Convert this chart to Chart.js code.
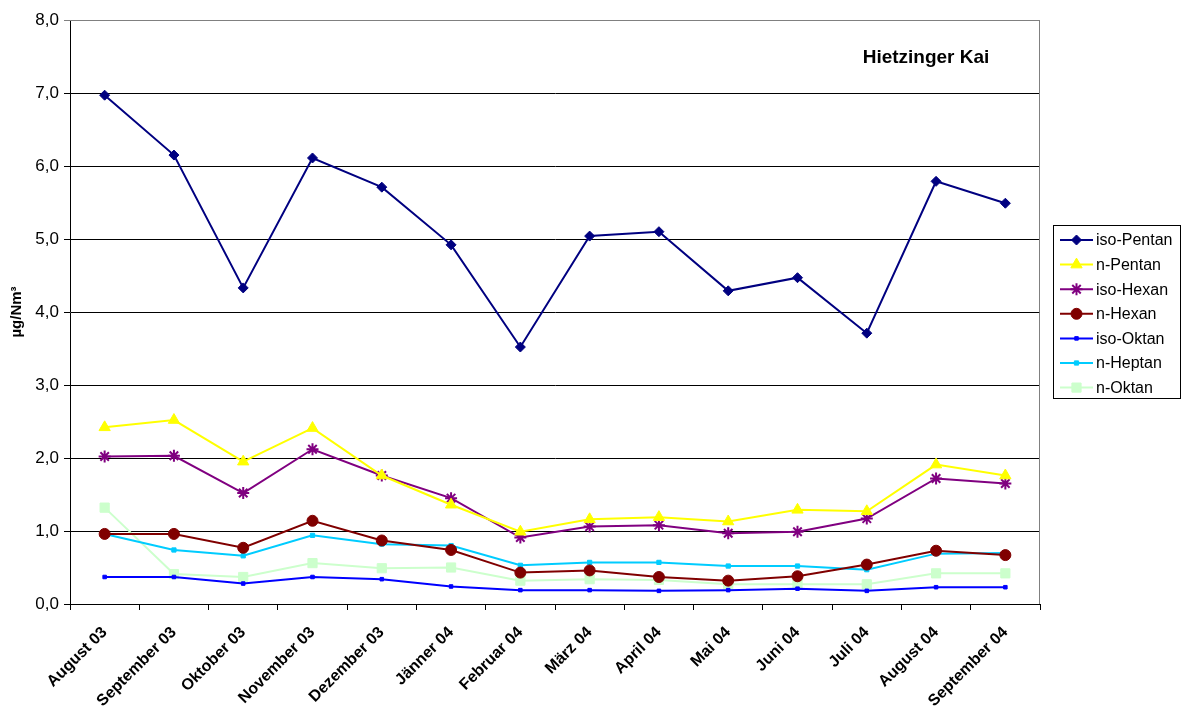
<!DOCTYPE html>
<html>
<head>
<meta charset="utf-8">
<title>Hietzinger Kai</title>
<script src="https://cdn.jsdelivr.net/npm/chart.js@4/dist/chart.umd.min.js"></script>
<style>
  html, body { margin: 0; padding: 0; background: #fff; }
  #wrap { width: 1182px; height: 711px; }
</style>
</head>
<body>
<div id="wrap"><canvas id="grafico" width="1182" height="711"></canvas></div>
<script>
// Monate
var monate = ['August 03', 'September 03', 'Oktober 03', 'November 03', 'Dezember 03', 'Jänner 04',
  'Februar 04', 'März 04', 'April 04', 'Mai 04', 'Juni 04', 'Juli 04', 'August 04', 'September 04'];

// Messwerte in µg/Nm³
var isoPentan = [6.97, 6.15, 4.33, 6.11, 5.71, 4.92, 3.52, 5.04, 5.10, 4.29, 4.47, 3.71, 5.79, 5.49];
var nPentan   = [2.42, 2.52, 1.95, 2.41, 1.76, 1.36, 0.99, 1.16, 1.19, 1.13, 1.29, 1.27, 1.91, 1.76];
var isoHexan  = [2.02, 2.03, 1.52, 2.12, 1.76, 1.45, 0.91, 1.06, 1.08, 0.97, 0.99, 1.17, 1.72, 1.65];
var nHexan    = [0.96, 0.96, 0.77, 1.14, 0.87, 0.74, 0.43, 0.46, 0.37, 0.32, 0.38, 0.54, 0.73, 0.67];
var isoOktan  = [0.37, 0.37, 0.28, 0.37, 0.34, 0.24, 0.19, 0.19, 0.18, 0.19, 0.21, 0.18, 0.23, 0.23];
var nHeptan   = [0.96, 0.74, 0.66, 0.94, 0.82, 0.80, 0.53, 0.57, 0.57, 0.52, 0.52, 0.47, 0.69, 0.70];
var nOktan    = [1.32, 0.41, 0.37, 0.56, 0.49, 0.50, 0.32, 0.34, 0.33, 0.27, 0.27, 0.27, 0.42, 0.42];

var yTicks = [0, 1, 2, 3, 4, 5, 6, 7, 8];

var schrift = '"Liberation Sans", Arial, sans-serif';

function serie(label, werte, farbe, punkt, radius) {
  return {
    label: label,
    data: werte,
    borderColor: farbe,
    backgroundColor: farbe,
    borderWidth: 2,
    pointStyle: punkt,
    pointRadius: radius,
    pointHoverRadius: radius,
    pointBorderWidth: punkt === 'star' ? 2 : 1,
    tension: 0
  };
}

var datasets = [
  serie('iso-Pentan', isoPentan, '#000080', 'rectRot', 5),
  serie('n-Pentan', nPentan, '#FFFF00', 'triangle', 6.5),
  serie('iso-Hexan', isoHexan, '#800080', 'star', 6),
  serie('n-Hexan', nHexan, '#800000', 'circle', 5.5),
  serie('iso-Oktan', isoOktan, '#0000FF', 'rect', 2.5),
  serie('n-Heptan', nHeptan, '#00CCFF', 'rect', 3),
  serie('n-Oktan', nOktan, '#CCFFCC', 'rect', 6.5)
];

// Rahmen, Überschrift und Legende
var rahmen = {
  id: 'rahmen',
  beforeDatasetsDraw: function(chart) {
    var c = chart.ctx, a = chart.chartArea;
    c.save();
    c.strokeStyle = '#808080';
    c.lineWidth = 1;
    c.beginPath();
    c.moveTo(a.left, a.top + 0.5);
    c.lineTo(a.right - 0.5, a.top + 0.5);
    c.lineTo(a.right - 0.5, a.bottom);
    c.stroke();
    c.restore();
  },
  afterDraw: function(chart) {
    var c = chart.ctx;
    c.save();
    c.fillStyle = '#000';
    c.font = 'bold 19px ' + schrift;
    c.textAlign = 'center';
    c.textBaseline = 'middle';
    c.fillText('Hietzinger Kai', 926, 58);

    // Legende
    var lx = 1053, ly = 225, lw = 127, lh = 173, zeile = 24.6;
    c.strokeStyle = '#000';
    c.lineWidth = 1;
    c.strokeRect(lx + 0.5, ly + 0.5, lw, lh);
    c.font = '16px ' + schrift;
    c.textAlign = 'left';
    chart.data.datasets.forEach(function(ds, i) {
      var y = ly + 15 + i * zeile;
      c.strokeStyle = ds.borderColor;
      c.lineWidth = 2;
      c.beginPath();
      c.moveTo(lx + 7, y);
      c.lineTo(lx + 40, y);
      c.stroke();
      c.fillStyle = ds.borderColor;
      c.strokeStyle = ds.borderColor;
      c.lineWidth = ds.pointBorderWidth;
      Chart.helpers.drawPoint(c, {
        pointStyle: ds.pointStyle,
        radius: ds.pointRadius,
        borderWidth: ds.pointBorderWidth,
        rotation: 0
      }, lx + 23.5, y);
      c.fillStyle = '#000';
      c.fillText(ds.label, lx + 43, y + 1);
    });
    c.restore();
  }
};

var ctx = document.getElementById('grafico').getContext('2d');
new Chart(ctx, {
  type: 'line',
  data: { labels: monate, datasets: datasets },
  plugins: [rahmen],
  options: {
    responsive: false,
    animation: false,
    layout: { padding: { top: 20, right: 142, left: 0, bottom: 0 } },
    plugins: {
      legend: { display: false },
      title: { display: false },
      tooltip: { enabled: false }
    },
    scales: {
      x: {
        offset: true,
        grid: { drawOnChartArea: false, drawTicks: true, tickLength: 6, color: '#000', offset: true },
        border: { color: '#000', width: 1 },
        ticks: {
          color: '#000',
          maxRotation: 45,
          minRotation: 45,
          autoSkip: false,
          padding: 13,
          font: { family: schrift, size: 16, weight: 'bold' }
        },
        afterFit: function(scale) { scale.height = 107; }
      },
      y: {
        min: 0,
        max: 8,
        afterBuildTicks: function(scale) {
          scale.ticks = yTicks.map(function(v) { return { value: v }; });
        },
        grid: {
          color: function(c) { return c.tick && c.tick.value === 8 ? '#808080' : '#000'; },
          tickLength: 6,
          drawTicks: true
        },
        border: { color: '#000', width: 1 },
        ticks: {
          color: '#000',
          padding: 5,
          font: { family: schrift, size: 17 },
          callback: function(v) { return v.toFixed(1).replace('.', ','); }
        },
        title: {
          display: true,
          text: 'µg/Nm³',
          color: '#000',
          padding: { top: 8, bottom: 0 },
          font: { family: schrift, size: 15, weight: 'bold' }
        },
        afterFit: function(scale) { scale.width = 70; }
      }
    }
  }
});
</script>
</body>
</html>
